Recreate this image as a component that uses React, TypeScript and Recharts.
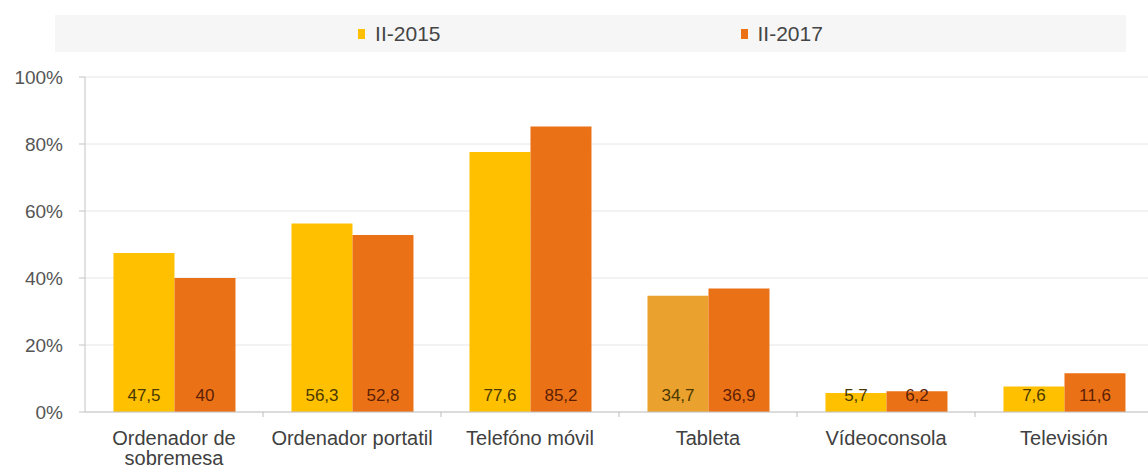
import React from "react";
import { BarChart, Bar, XAxis, YAxis, CartesianGrid, Legend, LabelList, Cell } from "recharts";

const categories = [
  "Ordenador de\nsobremesa",
  "Ordenador portatil",
  "Telefóno móvil",
  "Tableta",
  "Vídeoconsola",
  "Televisión",
];
const values2015 = [47.5, 56.3, 77.6, 34.7, 5.7, 7.6];
const values2017 = [40, 52.8, 85.2, 36.9, 6.2, 11.6];
const yTicks = [0, 20, 40, 60, 80, 100];
const seriesNames = ["II-2015", "II-2017"];

const COLOR_2015 = "#FFC000";
const COLOR_2017 = "#EB7116";
const colors2015 = [COLOR_2015, COLOR_2015, COLOR_2015, "#EBA12E", COLOR_2015, COLOR_2015];

const FONT = "'Liberation Sans', Arial, sans-serif";

const data = categories.map((c, i) => ({ name: c, a: values2015[i], b: values2017[i] }));

const fmt = (v: any) => String(v).replace(".", ",");

const XTick = (props: any) => {
  const { x, y, payload, width, index } = props;
  const lines = String(payload.value).split("\n");
  const half = payload.offset && payload.offset > 0 ? payload.offset : width / (2 * categories.length);
  return (
    <g>
      {index > 0 && (
        <line x1={x - half} x2={x - half} y1={y} y2={y + 5} stroke="#bdbdbd" />
      )}
      {lines.map((l: string, i: number) => (
        <text
          key={i}
          x={x}
          y={y + 26 + i * 20}
          dy="0.35em"
          textAnchor="middle"
          fontSize={20}
          fontFamily={FONT}
          fill="#404040"
        >
          {l}
        </text>
      ))}
    </g>
  );
};

const LegendContent = () => (
  <div
    style={{
      width: "100%",
      height: "100%",
      display: "flex",
      justifyContent: "center",
      alignItems: "center",
      gap: 300,
      fontFamily: FONT,
      fontSize: 21,
      color: "#454545",
    }}
  >
    {seriesNames.map((n, i) => (
      <div key={n} style={{ display: "flex", alignItems: "center" }}>
        <span
          style={{
            display: "inline-block",
            width: 7,
            height: 10,
            background: i === 0 ? COLOR_2015 : COLOR_2017,
            marginRight: 10,
          }}
        />
        <span>{n}</span>
      </div>
    ))}
  </div>
);

export default function App() {
  return (
    <div
      style={{
        position: "absolute",
        left: 0,
        top: 0,
        width: 1148,
        height: 470,
        overflow: "hidden",
        background: "#ffffff",
      }}
    >
      <BarChart
        width={1160}
        height={470}
        data={data}
        margin={{ top: 77, right: 7, left: 0, bottom: 8 }}
        barCategoryGap="16%"
        barGap={0}
      >
        <CartesianGrid vertical={false} stroke="#e6e6e6" />
        <XAxis
          dataKey="name"
          interval={0}
          height={50}
          tickLine={false}
          tickSize={0}
          tickMargin={0}
          axisLine={{ stroke: "#c4c4c4" }}
          tick={<XTick />}
        />
        <YAxis
          width={85}
          domain={[0, 100]}
          ticks={yTicks}
          tickFormatter={(v: number) => `${v}%`}
          tickSize={6}
          tickMargin={16}
          tickLine={{ stroke: "#c4c4c4" }}
          axisLine={{ stroke: "#c4c4c4" }}
          tick={{ fontSize: 19, fontFamily: FONT, fill: "#555555" }}
        />
        <Legend
          verticalAlign="middle"
          content={<LegendContent />}
          wrapperStyle={{ top: 15, left: 55, width: 1071, height: 37, background: "#f6f6f6" }}
        />
        <Bar dataKey="a" name={seriesNames[0]} fill={COLOR_2015} isAnimationActive={false}>
          {data.map((_, i) => (
            <Cell key={i} fill={colors2015[i]} />
          ))}
          <LabelList
            dataKey="a"
            position="insideBottom"
            offset={11}
            formatter={fmt}
            style={{ fontSize: 17, fontFamily: FONT, fill: "#4a3800" }}
          />
        </Bar>
        <Bar dataKey="b" name={seriesNames[1]} fill={COLOR_2017} isAnimationActive={false}>
          <LabelList
            dataKey="b"
            position="insideBottom"
            offset={11}
            formatter={fmt}
            style={{ fontSize: 17, fontFamily: FONT, fill: "#5c1f05" }}
          />
        </Bar>
      </BarChart>
    </div>
  );
}
